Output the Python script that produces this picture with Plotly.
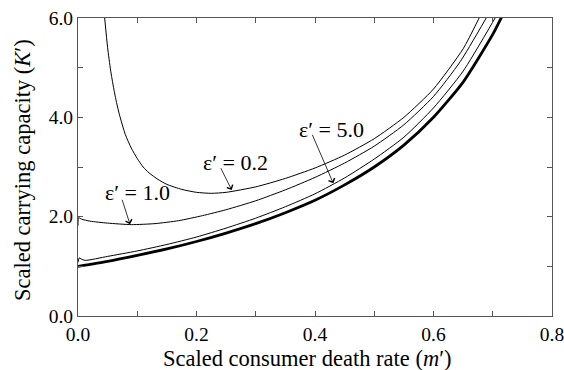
import plotly.graph_objects as go

# ---- data ----
m_inf = [0, 0.05, 0.10, 0.15, 0.20, 0.25, 0.30, 0.35, 0.40, 0.45, 0.50, 0.55, 0.60, 0.65, 0.70, 0.715]
K_inf = [1.00, 1.10, 1.22, 1.35, 1.50, 1.67, 1.86, 2.08, 2.33, 2.64, 3.00, 3.44, 4.00, 4.71, 5.67, 6.02]

m_e5 = [0, 0.002, 0.005, 0.012, 0.05, 0.10, 0.15, 0.20, 0.25, 0.30, 0.35, 0.40, 0.45, 0.50, 0.55, 0.60, 0.65, 0.704]
K_e5 = [1.08, 1.17, 1.15, 1.12, 1.20, 1.31, 1.44, 1.59, 1.77, 1.97, 2.20, 2.46, 2.78, 3.16, 3.60, 4.19, 4.93, 6.0]

m_e1 = [0, 0.001, 0.006, 0.02, 0.05, 0.09, 0.13, 0.17, 0.21, 0.25, 0.30, 0.35, 0.40, 0.45, 0.50, 0.55, 0.60, 0.645, 0.689]
K_e1 = [1.82, 1.98, 1.95, 1.91, 1.87, 1.84, 1.86, 1.92, 2.02, 2.14, 2.32, 2.54, 2.79, 3.08, 3.42, 3.85, 4.42, 5.12, 6.0]

m_e02 = [0.045, 0.05, 0.055, 0.06, 0.065, 0.07, 0.08, 0.09, 0.10, 0.11, 0.12, 0.135, 0.15, 0.175, 0.20, 0.225, 0.25,
         0.30, 0.35, 0.40, 0.45, 0.50, 0.55, 0.60, 0.65, 0.677]
K_e02 = [6.0, 5.4, 4.95, 4.6, 4.3, 4.05, 3.65, 3.38, 3.17, 3.0, 2.88, 2.75, 2.65, 2.55, 2.49, 2.47, 2.49,
         2.60, 2.77, 2.98, 3.24, 3.57, 4.00, 4.57, 5.38, 6.0]

labels = ["ε′ = 1.0", "ε′ = 0.2", "ε′ = 5.0"]
label_pos = [(0.101, 2.49), (0.265, 3.09), (0.427, 3.75)]
arrow_tail = [(0.0737, 2.37), (0.2397, 3.006), (0.3944, 3.678)]
arrow_head = [(0.0878, 1.846), (0.2594, 2.537), (0.4309, 2.672)]

x_ticks = [0.0, 0.2, 0.4, 0.6, 0.8]
y_ticks = [0.0, 2.0, 4.0, 6.0]

FONT = "Liberation Serif, Times New Roman, DejaVu Serif, serif"

fig = go.Figure()
for mx, ky, w in [(m_e02, K_e02, 1), (m_e1, K_e1, 1), (m_e5, K_e5, 1), (m_inf, K_inf, 2.8)]:
    fig.add_trace(go.Scatter(x=mx, y=ky, mode="lines",
                             line=dict(color="black", width=w, shape="spline", smoothing=0.6),
                             showlegend=False, hoverinfo="skip"))

for txt, (tx, ty) in zip(labels, label_pos):
    fig.add_annotation(x=tx, y=ty, xref="x", yref="y", text=txt, showarrow=False,
                       font=dict(family=FONT, size=22, color="black"))
for (ax, ay), (hx, hy) in zip(arrow_tail, arrow_head):
    fig.add_annotation(x=hx, y=hy, ax=ax, ay=ay, xref="x", yref="y", axref="x", ayref="y",
                       text="", showarrow=True, arrowhead=4, arrowsize=1.6, arrowwidth=0.8,
                       arrowcolor="black")

fig.add_annotation(x=0.5, y=0, xref="paper", yref="paper", yanchor="middle", yshift=-42, xshift=-8,
                   text="Scaled consumer death rate (<i>m</i>′)", showarrow=False,
                   font=dict(family=FONT, size=22.5, color="black"))
fig.add_annotation(x=0, y=0.5, xref="paper", yref="paper", xanchor="center", xshift=-56, yshift=-3,
                   textangle=-90, text="Scaled carrying capacity (<i>K</i>′)", showarrow=False,
                   font=dict(family=FONT, size=22.5, color="black"))

axis_common = dict(showgrid=False, zeroline=False, showline=True, linecolor="#555", linewidth=1.2,
                   mirror="allticks", ticks="inside", ticklen=5, tickwidth=1, tickcolor="#555",
                   ticklabeloverflow="allow",
                   tickfont=dict(family=FONT, size=19.5, color="black"))
fig.update_xaxes(range=[0, 0.8], tickvals=x_ticks, ticktext=[f"{v:.1f}" for v in x_ticks],
                 minor=dict(dtick=0.1, ticks="inside", ticklen=5, tickcolor="#555"), **axis_common)
fig.update_yaxes(range=[0, 6], tickvals=y_ticks, ticktext=[f"{v:.1f}" for v in y_ticks],
                 minor=dict(dtick=1.0, ticks="inside", ticklen=5, tickcolor="#555"), **axis_common)

fig.update_layout(width=564, height=370, margin=dict(l=78, r=12, t=18, b=54, autoexpand=False),
                  plot_bgcolor="white", paper_bgcolor="white",
                  font=dict(family=FONT, color="black"))

fig.write_html("out.html", config={"displayModeBar": False},
               post_script="document.body.style.margin='0';document.body.style.overflow='hidden';")
